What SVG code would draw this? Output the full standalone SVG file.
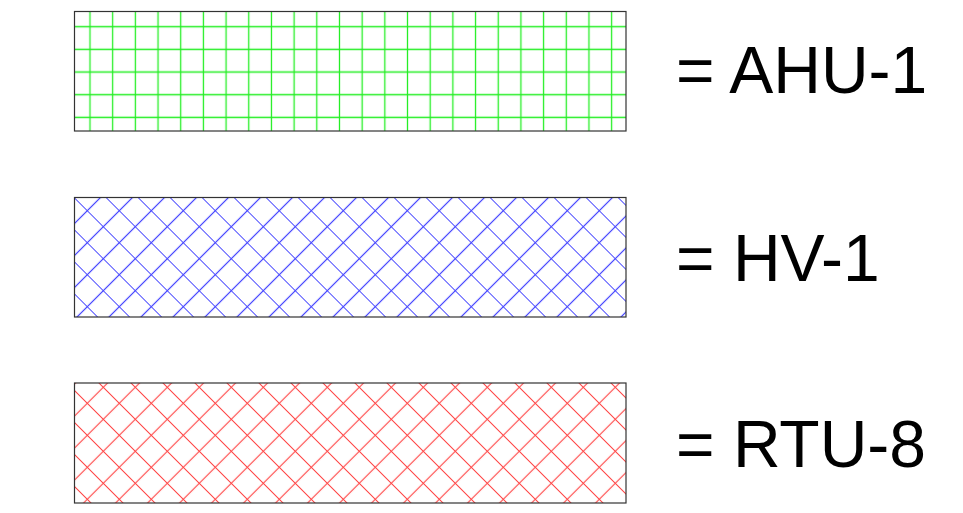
<svg xmlns="http://www.w3.org/2000/svg" width="963" height="513" viewBox="0 0 963 513">
<style>
.box{stroke:#333;stroke-width:1.2}
.lbl{font-family:"Liberation Sans",Arial,sans-serif;font-size:66px;fill:#000}
</style>
<defs>
<pattern id="grid" patternUnits="userSpaceOnUse" x="78.66" y="15.36" width="22.68" height="22.67">
<path d="M11.34 0V22.67M0 11.34H22.68" stroke="#22ee22" stroke-width="1.3" fill="none"/>
</pattern>
<pattern id="diagB" patternUnits="userSpaceOnUse" x="-4.24" y="8.08" width="22.627" height="22.627" patternTransform="rotate(45)">
<path d="M11.31 0V22.627M0 11.31H22.627" stroke="#4a4aff" stroke-width="1.2" fill="none"/>
</pattern>
<pattern id="diagR" patternUnits="userSpaceOnUse" x="-3.8" y="8.5" width="22.627" height="22.627" patternTransform="rotate(45)">
<path d="M11.31 0V22.627M0 11.31H22.627" stroke="#ff4a4a" stroke-width="1.2" fill="none"/>
</pattern>
</defs>
<g id="ahu1">
<rect class="box" x="74.5" y="11.5" width="551.5" height="119.5" fill="url(#grid)"/>
<text class="lbl" x="676" y="93">= AHU-1</text>
</g>
<g id="hv1">
<rect class="box" x="74.5" y="197.5" width="551.5" height="119.5" fill="url(#diagB)"/>
<text class="lbl" x="676" y="281">= HV-1</text>
</g>
<g id="rtu8">
<rect class="box" x="74.5" y="383" width="551.5" height="120" fill="url(#diagR)"/>
<text class="lbl" x="676" y="467">= RTU-8</text>
</g>
<g id="connectors"/>
</svg>
